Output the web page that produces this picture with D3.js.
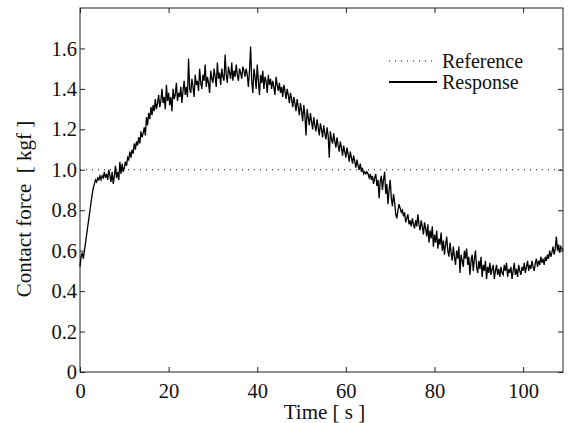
<!DOCTYPE html>
<html>
<head>
<meta charset="utf-8">
<script src="https://cdn.jsdelivr.net/npm/d3@7"></script>
<style>
  body { margin: 0; background: #fff; }
  svg { display: block; }
  svg text { font-family: "Liberation Serif", "Times New Roman", serif; }
</style>
</head>
<body>
<svg id="chart" width="568" height="423"></svg>
<script>
// sample step of the recorded signal, seconds
const sampleStep = 0.25;

// measured contact force, kgf, one value every 0.25 s from t = 0 to 109
const response = [
  0.52, 0.57, 0.59, 0.56, 0.60, 0.64, 0.68, 0.72, 0.76, 0.80, 0.84, 0.88, 0.91, 0.93, 0.95, 0.94, 0.96, 0.95, 0.97, 0.95,
  0.97, 0.96, 0.99, 0.96, 0.98, 0.95, 1.00, 0.97, 0.94, 0.99, 0.93, 0.97, 1.02, 0.96, 0.99, 0.95, 1.04, 0.98, 1.03, 0.99,
  1.01, 1.04, 1.02, 1.06, 1.05, 1.09, 1.06, 1.10, 1.08, 1.13, 1.10, 1.14, 1.12, 1.16, 1.13, 1.19, 1.16, 1.18, 1.21, 1.17,
  1.26, 1.22, 1.28, 1.25, 1.31, 1.27, 1.32, 1.29, 1.35, 1.30, 1.33, 1.37, 1.31, 1.34, 1.40, 1.33, 1.36, 1.30, 1.42, 1.34,
  1.38, 1.32, 1.36, 1.29, 1.40, 1.35, 1.37, 1.43, 1.34, 1.38, 1.36, 1.41, 1.33, 1.39, 1.44, 1.37, 1.41, 1.36, 1.55, 1.40,
  1.38, 1.45, 1.41, 1.36, 1.47, 1.42, 1.44, 1.39, 1.50, 1.43, 1.40, 1.47, 1.44, 1.52, 1.41, 1.46, 1.43, 1.38, 1.49, 1.45,
  1.43, 1.50, 1.46, 1.41, 1.53, 1.45, 1.48, 1.42, 1.50, 1.46, 1.44, 1.57, 1.47, 1.43, 1.51, 1.48, 1.45, 1.53, 1.44, 1.49,
  1.46, 1.52, 1.47, 1.44, 1.50, 1.48, 1.45, 1.51, 1.49, 1.46, 1.50, 1.47, 1.41, 1.49, 1.61, 1.44, 1.38, 1.50, 1.46, 1.40,
  1.52, 1.44, 1.37, 1.47, 1.43, 1.49, 1.40, 1.46, 1.44, 1.38, 1.47, 1.42, 1.45, 1.40, 1.44, 1.41, 1.37, 1.46, 1.42, 1.39,
  1.43, 1.38, 1.41, 1.36, 1.42, 1.39, 1.35, 1.40, 1.37, 1.33, 1.38, 1.35, 1.31, 1.36, 1.33, 1.29, 1.35, 1.31, 1.27, 1.33,
  1.29, 1.24, 1.32, 1.27, 1.17, 1.30, 1.26, 1.22, 1.28, 1.24, 1.20, 1.26, 1.22, 1.19, 1.25, 1.21, 1.17, 1.23, 1.20, 1.16,
  1.22, 1.18, 1.15, 1.21, 1.17, 1.06, 1.19, 1.15, 1.13, 1.18, 1.14, 1.11, 1.16, 1.12, 1.09, 1.14, 1.11, 1.07, 1.12, 1.09,
  1.06, 1.11, 1.08, 1.04, 1.09, 1.06, 1.03, 1.07, 1.04, 1.01, 1.05, 1.02, 1.00, 1.03, 0.99, 1.01, 0.98, 0.99, 0.98, 0.99,
  0.98, 0.96, 0.98, 0.95, 0.97, 0.93, 0.96, 0.98, 0.92, 0.95, 0.86, 0.94, 0.97, 0.90, 0.95, 0.99, 0.88, 0.93, 0.83, 0.90,
  0.95, 0.86, 0.82, 0.88, 0.84, 0.78, 0.76, 0.80, 0.83, 0.81, 0.79, 0.80, 0.77, 0.79, 0.74, 0.76, 0.78, 0.73, 0.75, 0.72,
  0.76, 0.73, 0.71, 0.75, 0.72, 0.78, 0.73, 0.70, 0.75, 0.72, 0.68, 0.74, 0.71, 0.67, 0.73, 0.64, 0.70, 0.66, 0.72, 0.62,
  0.68, 0.64, 0.70, 0.61, 0.66, 0.63, 0.69, 0.60, 0.65, 0.58, 0.63, 0.67, 0.60, 0.57, 0.64, 0.59, 0.55, 0.62, 0.57, 0.53,
  0.60, 0.56, 0.62, 0.49, 0.58, 0.55, 0.52, 0.60, 0.56, 0.61, 0.53, 0.57, 0.48, 0.55, 0.58, 0.50, 0.56, 0.60, 0.52, 0.49,
  0.55, 0.51, 0.57, 0.47, 0.53, 0.50, 0.55, 0.46, 0.52, 0.49, 0.54, 0.48, 0.51, 0.53, 0.46, 0.50, 0.53, 0.48, 0.51, 0.47,
  0.52, 0.49, 0.48, 0.53, 0.50, 0.54, 0.47, 0.51, 0.49, 0.52, 0.46, 0.50, 0.54, 0.48, 0.51, 0.47, 0.53, 0.50, 0.48, 0.52,
  0.50, 0.54, 0.49, 0.52, 0.55, 0.50, 0.53, 0.51, 0.55, 0.52, 0.50, 0.54, 0.56, 0.52, 0.55, 0.53, 0.57, 0.54, 0.56, 0.53,
  0.57, 0.55, 0.58, 0.56, 0.60, 0.57, 0.59, 0.62, 0.58, 0.61, 0.67, 0.60, 0.63, 0.59, 0.62, 0.61, 0.60
];

// reference force, kgf (constant)
const reference = [1.0, 1.0];
const referenceTimes = [0, 109];

const xTicks = [0, 20, 40, 60, 80, 100];
const yTicks = [0, 0.2, 0.4, 0.6, 0.8, 1.0, 1.2, 1.4, 1.6];
const legendLabels = ["Reference", "Response"];

const margin = { top: 8, right: 5, bottom: 51, left: 80 };
const width = 568 - margin.left - margin.right;
const height = 423 - margin.top - margin.bottom;

const svg = d3.select("#chart");
const g = svg.append("g").attr("transform", `translate(${margin.left},${margin.top})`);

const x = d3.scaleLinear().domain([0, 109]).range([0, width]);
const y = d3.scaleLinear().domain([0, 1.8]).range([height, 0]);

const fmtY = (d) => d === 0 ? "0" : d3.format(".1f")(d);

// axes, ticks pointing inward on all four sides
let styleAxis = (sel) => {
  sel.attr("font-family", null).attr("font-size", null);
  sel.select(".domain").remove();
  sel.selectAll(".tick line").attr("stroke", "#222").attr("stroke-width", 1);
  sel.selectAll(".tick text")
    .style("font-family", "'Liberation Serif', 'Times New Roman', serif")
    .style("font-size", "20.5px")
    .attr("fill", "#111");
};

g.append("g").attr("transform", `translate(0,${height})`)
  .call(d3.axisBottom(x).tickValues(xTicks).tickSizeInner(-5).tickSizeOuter(0).tickPadding(11))
  .call(styleAxis);
g.append("g")
  .call(d3.axisTop(x).tickValues(xTicks).tickSizeInner(-5).tickSizeOuter(0).tickFormat(""))
  .call(styleAxis);
g.append("g")
  .call(d3.axisLeft(y).tickValues(yTicks).tickSizeInner(-5).tickSizeOuter(0).tickPadding(3).tickFormat(fmtY))
  .call(styleAxis);
g.append("g").attr("transform", `translate(${width},0)`)
  .call(d3.axisRight(y).tickValues(yTicks).tickSizeInner(-5).tickSizeOuter(0).tickFormat(""))
  .call(styleAxis);

g.append("rect")
  .attr("x", 0).attr("y", 0).attr("width", width).attr("height", height)
  .attr("fill", "none").attr("stroke", "#222").attr("stroke-width", 1);

// reference line
g.append("path")
  .datum(referenceTimes.map((t, i) => [t, reference[i]]))
  .attr("fill", "none")
  .attr("stroke", "#000")
  .attr("stroke-width", 1)
  .attr("stroke-dasharray", "1,5")
  .attr("d", d3.line().x((d) => x(d[0])).y((d) => y(d[1])));

// response line
g.append("path")
  .datum(response)
  .attr("fill", "none")
  .attr("stroke", "#000")
  .attr("stroke-width", 1.3)
  .attr("d", d3.line().x((d, i) => x(i * sampleStep)).y((d) => y(d)));

// legend
let legend = svg.append("g").attr("transform", "translate(389,61)");
legend.append("line")
  .attr("x1", 0).attr("x2", 48).attr("y1", 0).attr("y2", 0)
  .attr("stroke", "#000").attr("stroke-width", 1).attr("stroke-dasharray", "1,5");
legend.append("line")
  .attr("x1", 0).attr("x2", 48).attr("y1", 21).attr("y2", 21)
  .attr("stroke", "#000").attr("stroke-width", 2);
legend.selectAll("text")
  .data(legendLabels)
  .enter()
  .append("text")
  .attr("x", 53)
  .attr("y", (d, i) => i * 21 + 7)
  .attr("font-size", 20)
  .attr("fill", "#111")
  .text((d) => d);

// axis titles
svg.append("text")
  .attr("x", margin.left + width / 2 + 3)
  .attr("y", 419)
  .attr("text-anchor", "middle")
  .attr("font-size", 21)
  .attr("fill", "#111")
  .text("Time [ s ]");

svg.append("text")
  .attr("transform", "translate(31,209) rotate(-90)")
  .attr("text-anchor", "middle")
  .attr("font-size", 21)
  .attr("fill", "#111")
  .style("white-space", "pre")
  .text("Contact force  [ kgf ]");
</script>
</body>
</html>
